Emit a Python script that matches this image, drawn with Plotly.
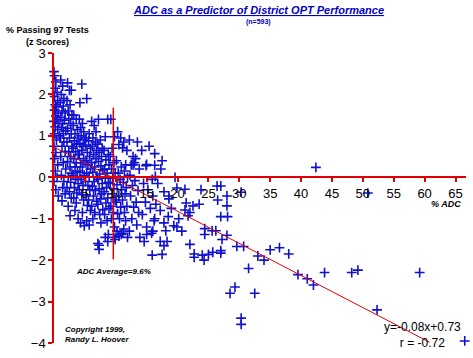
import plotly.graph_objects as go

# ---------------- data ----------------
adc = [
    # x 0-1
    0.0,0.1,0.3,0.2,0.5,0.1,0.6,0.2,0.4,0.1,0.7,0.3,0.5,0.0,0.8,0.2,0.6,0.1,0.9,0.4,0.0,0.3,0.1,0.6,0.2,0.5,0.0,0.3,0.7,
    # x 1-2
    1.1,1.4,1.2,1.6,1.0,1.5,1.3,1.8,1.1,1.7,1.4,1.2,1.9,1.5,1.0,1.6,1.3,1.8,1.1,1.5,1.9,1.2,1.6,1.4,1.8,1.3,
    # x 2-3
    2.2,2.5,2.8,2.1,2.6,2.3,2.9,2.4,2.7,2.2,2.8,2.5,2.1,2.9,2.4,2.7,2.2,2.6,2.9,2.3,2.7,2.1,2.5,2.8,2.3,2.6,
    # x 3-4
    3.2,3.6,3.1,3.8,3.4,3.9,3.3,3.7,3.1,3.5,3.9,3.2,3.6,3.4,3.8,3.1,3.5,3.9,3.3,3.7,3.2,3.6,3.4,3.9,
    # x 4-5
    4.2,4.5,4.1,4.6,4.3,4.8,4.4,4.9,4.2,4.7,4.5,4.1,4.8,4.3,4.6,4.2,4.9,4.4,4.7,4.1,4.5,4.8,4.3,4.6,4.9,
    # x 5-6
    5.3,5.7,5.2,5.6,5.1,5.9,5.4,5.8,5.2,5.5,5.9,5.3,5.7,5.1,5.5,5.8,5.2,5.6,5.4,5.9,5.3,5.7,
    # x 6-7
    6.1,6.5,6.8,6.3,6.7,6.2,6.9,6.4,6.8,6.1,6.6,6.3,6.9,6.5,6.2,6.7,6.4,6.9,6.1,6.6,6.3,
    # x 7-8
    7.2,7.5,7.1,7.8,7.3,7.7,7.2,7.6,7.9,7.4,7.1,7.8,7.3,7.7,7.5,7.1,7.9,7.4,7.6,7.3,7.1,7.3,
    # x 8-9
    8.3,8.7,8.1,8.8,8.4,8.9,8.2,8.6,8.3,8.8,8.5,8.1,8.7,8.4,8.9,8.2,8.6,8.8,8.3,8.7,
    # x 9-10
    9.2,9.8,9.4,9.1,9.7,9.3,9.9,9.5,9.1,9.7,9.4,9.9,9.2,9.6,9.3,9.8,9.9,9.9,
    # x 10-11
    10.3,10.8,10.5,10.1,10.9,10.4,10.7,10.2,10.9,10.5,10.1,10.8,10.3,10.6,10.2,10.9,10.5,
    # x 11-12
    11.3,11.8,11.1,11.6,11.4,11.9,11.2,11.7,11.5,11.1,11.8,11.4,11.6,11.3,11.9,11.0,
    # x 12-14
    12.2,13.5,12.8,13.2,12.5,13.8,12.3,13.1,12.7,13.6,12.4,13.3,12.9,13.7,12.6,13.4,12.2,13.9,12.8,13.0,
    # x 14-18
    14.2,15.4,16.3,17.5,17.3,14.9,15.9,16.4,14.5,15.2,16.0,14.8,15.6,14.3,16.2,15.0,15.8,14.6,15.0,16.3,
    # x 16-31
    18.6,21.4,23.5,22.5,21.2,22.0,21.7,26.5,28.0,28.0,27.0,28.1,24.4,24.4,22.0,22.7,22.7,24.0,24.3,25.0,
    25.7,27.0,27.0,29.6,30.7,15.9,17.5,17.2,18.3,17.8,20.7,19.4,19.9,18.1,16.0,15.0,25.6,27.2,28.0,26.2,
    19.6,19.9,21.2,23.8,26.4,27.0,30.3,18.6,16.8,17.8,16.5,17.2,18.5,16.3,19.0,20.2,17.8,
    # x 30-67
    33.0,35.0,36.5,38.0,39.5,30.3,30.3,32.5,28.5,29.3,31.5,34.0,41.0,42.0,43.8,48.2,49.2,52.3,59.2,66.5,42.4,50.8,
]

z = [
    2.55,2.45,2.3,2.15,2.05,1.95,1.85,1.75,1.7,1.62,1.55,1.48,1.4,1.35,1.3,1.22,1.15,1.05,1.0,0.9,0.75,0.6,0.45,0.3,0.15,0.0,-0.1,-0.3,-0.45,
    2.35,2.2,2.0,1.9,1.8,1.72,1.6,1.55,1.45,1.38,1.3,1.2,1.12,1.05,0.95,0.85,0.75,0.62,0.5,0.35,0.2,0.05,-0.1,-0.25,-0.4,-0.57,
    2.28,2.1,2.1,1.85,1.75,1.6,1.5,1.42,1.3,1.18,1.05,0.95,0.85,0.75,0.62,0.5,0.38,0.25,0.1,0.0,-0.12,-0.25,-0.35,-0.5,-0.7,-0.93,
    1.5,1.4,1.25,1.15,1.05,0.95,0.88,0.8,0.7,0.62,0.55,0.45,0.35,0.25,0.15,0.05,-0.05,-0.15,-0.25,-0.38,-0.5,-0.62,-0.8,-1.0,
    1.8,2.25,1.4,1.3,1.2,1.1,1.0,0.9,0.82,0.75,0.65,0.55,0.45,0.35,0.25,0.12,0.05,-0.05,-0.2,-0.3,-0.42,-0.55,-1.1,-0.85,-1.17,
    1.9,1.05,0.95,0.88,0.78,0.7,0.6,0.5,0.4,0.3,0.2,0.1,0.0,-0.1,-0.2,-0.3,-0.42,-0.55,-0.68,-0.8,-1.05,-1.15,
    1.35,1.25,1.1,0.95,0.85,0.75,0.65,0.55,0.45,0.35,0.25,0.12,0.02,-0.1,-0.22,-0.32,-0.45,-0.58,-0.7,-0.85,-1.0,
    1.4,0.9,0.8,0.7,0.6,0.5,0.38,0.28,0.18,0.08,-0.05,-0.15,-0.28,-0.4,-0.52,-0.65,-0.78,-0.9,-1.1,-1.64,-1.6,-1.74,
    0.98,1.4,0.65,0.55,0.42,0.3,0.2,0.1,-0.02,-0.12,-0.25,-0.35,-0.5,-0.62,-0.75,-0.9,-1.05,-1.38,-1.45,-1.55,
    1.4,0.98,0.7,0.5,0.35,0.2,0.1,-0.02,-0.15,-0.28,-0.4,-0.55,-0.7,-0.85,-1.0,-1.2,-1.45,-1.5,
    1.1,0.95,0.79,0.4,0.25,0.1,-0.05,-0.18,-0.3,-0.45,-0.6,-0.72,-0.88,-1.0,-1.3,-1.38,-1.42,
    0.85,0.65,0.71,0.3,0.15,0.0,-0.12,-0.25,-0.4,-0.55,-0.7,-0.85,-1.05,-1.25,-1.45,-1.35,
    0.9,0.85,0.5,0.45,0.3,0.2,0.05,-0.08,-0.2,-0.32,-0.45,-0.6,-0.72,-0.85,-1.0,-1.15,-1.3,-1.45,0.3,0.35,
    0.65,0.75,0.57,0.4,0.2,0.28,-0.05,0.02,-0.15,-0.3,-0.45,-0.6,-0.75,-0.9,-1.05,-1.2,-1.35,-1.55,0.31,0.29,
    -0.52,-0.62,-0.65,-0.69,-0.79,-0.85,-0.93,-0.55,-0.45,-0.69,-0.95,-0.95,-1.24,-1.38,-1.62,-1.85,-1.93,-1.88,-2.0,-1.86,
    -1.81,-1.77,-1.83,-1.67,-1.67,-1.88,-1.86,-1.55,-1.55,-1.65,-1.3,-1.17,-1.2,-1.29,-1.3,-1.38,-1.29,-1.5,-1.4,-1.29,
    0.0,-0.26,-0.29,-0.3,-0.21,-0.21,-0.36,-0.45,-0.15,-0.35,-0.65,-0.8,-0.95,-1.0,-0.75,-1.0,-1.1,
    -1.9,-1.75,-1.7,-1.85,-2.35,-3.4,-3.55,-2.8,-2.8,-2.65,-2.2,-2.0,-2.45,-2.6,-2.3,-2.3,-2.24,-3.2,-2.3,-3.95,0.24,-0.38,
]

x_ticks = [5, 10, 15, 20, 25, 30, 35, 40, 45, 50, 55, 60, 65]
y_ticks = [-4, -3, -2, -1, 0, 1, 2, 3]

fit_intercept = 0.73
fit_slope = -0.0775
fit_x = [0, 60.8]
fit_y = [fit_intercept + fit_slope * v for v in fit_x]

adc_average = 9.6
avg_line_y = [-1.98, 1.68]

RED = "#e00000"
BLUE = "#1010d0"
FONT = "Liberation Sans, Arial, sans-serif"

fig = go.Figure()

fig.add_trace(go.Scatter(
    x=adc, y=z, mode="markers", cliponaxis=False,
    marker=dict(symbol="cross-thin", size=7, line=dict(color=BLUE, width=1.6)),
    hoverinfo="skip", showlegend=False,
))
fig.add_trace(go.Scatter(
    x=fit_x, y=fit_y, mode="lines", cliponaxis=False,
    line=dict(color=RED, width=1), hoverinfo="skip", showlegend=False,
))
fig.add_trace(go.Scatter(
    x=[adc_average, adc_average], y=avg_line_y, mode="lines", cliponaxis=False,
    line=dict(color=RED, width=1.5), hoverinfo="skip", showlegend=False,
))

fig.update_layout(
    width=473, height=358,
    margin=dict(l=54, r=7, t=53, b=11),
    paper_bgcolor="white", plot_bgcolor="white",
    font=dict(family=FONT, size=12, color="black"),
    xaxis=dict(
        range=[0, 66.7], showgrid=False, zeroline=False,
        showline=True, linecolor=RED, linewidth=1.5,
        anchor="free", position=4 / 7,
        tickmode="array", tickvals=x_ticks,
        ticks="outside", ticklen=4, tickcolor=RED, tickwidth=1.5,
        tickfont=dict(size=13, color="black"),
    ),
    yaxis=dict(
        range=[-4, 3], showgrid=False, zeroline=False,
        showline=True, linecolor=RED, linewidth=1.5,
        tickmode="array", tickvals=y_ticks,
        ticks="outside", ticklen=4, tickcolor=RED, tickwidth=1.5,
        tickfont=dict(size=13, color="black"),
    ),
    annotations=[
        dict(text="<b><i><u>ADC as a Predictor of District OPT Performance</u></i></b>",
             xref="paper", yref="paper", x=0.497, y=1.0, yshift=43, xanchor="center", yanchor="middle",
             showarrow=False, font=dict(size=11, color="#0000c8", family=FONT)),
        dict(text="<b>(n=593)</b>",
             xref="paper", yref="paper", x=0.497, y=1.0, yshift=31, xanchor="center", yanchor="middle",
             showarrow=False, font=dict(size=7, color="#0000c8", family=FONT)),
        dict(text="<b>% Passing 97 Tests<br>(z Scores)</b>",
             xref="paper", yref="paper", x=-0.015, y=1.0, yshift=17, xanchor="center", yanchor="middle",
             showarrow=False, font=dict(size=9, color="black", family=FONT)),
        dict(text="<b><i>% ADC</i></b>",
             xref="paper", x=1.0, xshift=-3, y=0, yshift=-27, yref="y", xanchor="right", yanchor="middle",
             showarrow=False, font=dict(size=9, color="black", family=FONT)),
        dict(text="<b><i>ADC Average=9.6%</i></b>",
             x=adc_average, y=avg_line_y[0], yshift=-6, xanchor="center", yanchor="top",
             showarrow=False, font=dict(size=8, color="black", family=FONT)),
        dict(text="<b><i>Copyright 1999,<br>Randy L. Hoover</i></b>",
             x=1.5, y=-3.8, xanchor="left", yanchor="middle", align="left",
             showarrow=False, font=dict(size=8, color="black", family=FONT)),
        dict(text="y=-0.08x+0.73<br>r = -0.72",
             xref="paper", x=1.0, xshift=-3, y=-3.8, xanchor="right", yanchor="middle", align="center",
             showarrow=False, font=dict(size=12, color="black", family=FONT)),
    ],
)

fig.write_html("out.html", config={"displayModeBar": False},
               post_script="document.body.style.margin='0';")
